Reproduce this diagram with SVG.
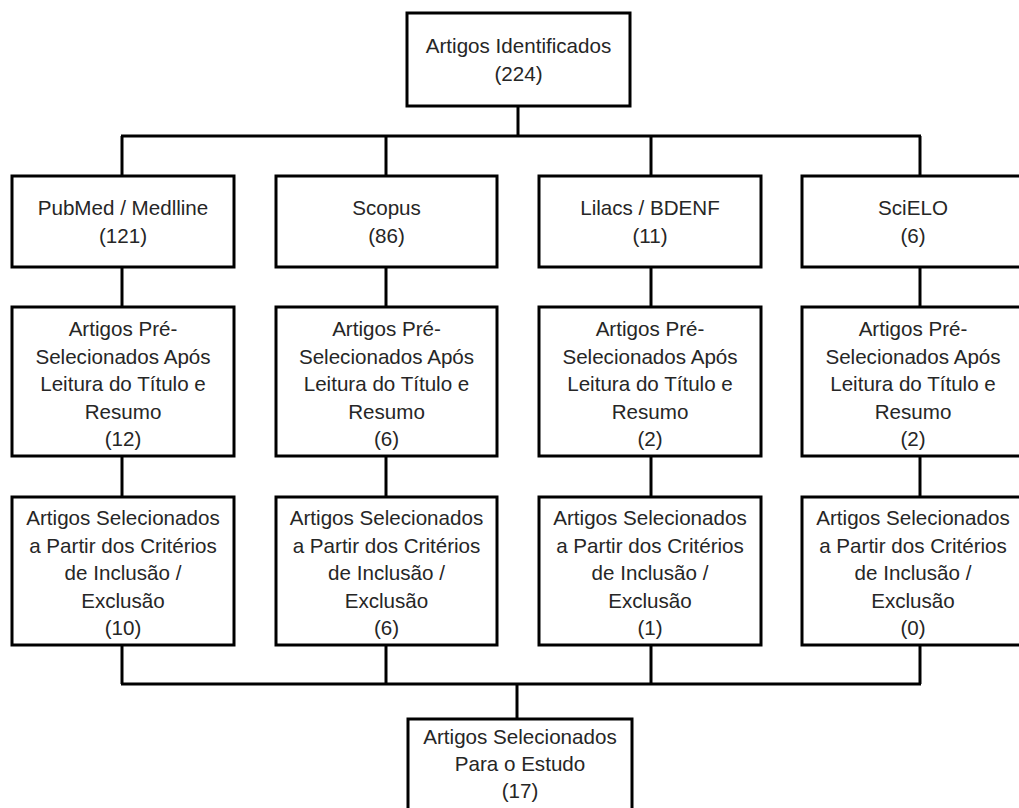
<svg xmlns="http://www.w3.org/2000/svg" width="1019" height="808" viewBox="0 0 1019 808">
<style>
.box{fill:#fff;stroke:#000;stroke-width:3}
.c{fill:none;stroke:#000;stroke-width:3}
text{font-family:"Liberation Sans",Arial,sans-serif;font-size:20.6px;fill:#262626;text-anchor:middle}
</style>
<rect width="1019" height="808" fill="#fff"/>
<g id="connectors">
<line class="c" x1="518" y1="106" x2="518" y2="136"/>
<line class="c" x1="121" y1="136" x2="921" y2="136"/>
<line class="c" x1="122" y1="136" x2="122" y2="176"/>
<line class="c" x1="386" y1="136" x2="386" y2="176"/>
<line class="c" x1="651" y1="136" x2="651" y2="176"/>
<line class="c" x1="920" y1="136" x2="920" y2="176"/>
<line class="c" x1="122" y1="267" x2="122" y2="307"/>
<line class="c" x1="386" y1="267" x2="386" y2="307"/>
<line class="c" x1="651" y1="267" x2="651" y2="307"/>
<line class="c" x1="920" y1="267" x2="920" y2="307"/>
<line class="c" x1="122" y1="456" x2="122" y2="497"/>
<line class="c" x1="386" y1="456" x2="386" y2="497"/>
<line class="c" x1="651" y1="456" x2="651" y2="497"/>
<line class="c" x1="920" y1="456" x2="920" y2="497"/>
<line class="c" x1="122" y1="645" x2="122" y2="684"/>
<line class="c" x1="386" y1="645" x2="386" y2="684"/>
<line class="c" x1="651" y1="645" x2="651" y2="684"/>
<line class="c" x1="920" y1="645" x2="920" y2="684"/>
<line class="c" x1="121" y1="684" x2="921" y2="684"/>
<line class="c" x1="517" y1="684" x2="517" y2="719"/>
</g>
<g id="n-identificados">
<rect class="box" x="407" y="13" width="223" height="93"/>
<text x="518.5" y="53">Artigos Identificados</text>
<text x="518.5" y="81">(224)</text>
</g>
<g id="n-pubmed">
<rect class="box" x="12" y="176" width="222" height="91"/>
<text x="123" y="215">PubMed / Medlline</text>
<text x="123" y="243">(121)</text>
</g>
<g id="n-scopus">
<rect class="box" x="276" y="176" width="221" height="91"/>
<text x="386.5" y="215">Scopus</text>
<text x="386.5" y="243">(86)</text>
</g>
<g id="n-lilacs">
<rect class="box" x="539" y="176" width="222" height="91"/>
<text x="650" y="215">Lilacs / BDENF</text>
<text x="650" y="243">(11)</text>
</g>
<g id="n-scielo">
<rect class="box" x="802" y="176" width="222" height="91"/>
<text x="913" y="215">SciELO</text>
<text x="913" y="243">(6)</text>
</g>
<g id="n-pre-pubmed">
<rect class="box" x="12" y="307" width="222" height="149"/>
<text x="123" y="336">Artigos Pré-</text>
<text x="123" y="363.5">Selecionados Após</text>
<text x="123" y="391">Leitura do Título e</text>
<text x="123" y="418.5">Resumo</text>
<text x="123" y="446">(12)</text>
</g>
<g id="n-pre-scopus">
<rect class="box" x="276" y="307" width="221" height="149"/>
<text x="386.5" y="336">Artigos Pré-</text>
<text x="386.5" y="363.5">Selecionados Após</text>
<text x="386.5" y="391">Leitura do Título e</text>
<text x="386.5" y="418.5">Resumo</text>
<text x="386.5" y="446">(6)</text>
</g>
<g id="n-pre-lilacs">
<rect class="box" x="539" y="307" width="222" height="149"/>
<text x="650" y="336">Artigos Pré-</text>
<text x="650" y="363.5">Selecionados Após</text>
<text x="650" y="391">Leitura do Título e</text>
<text x="650" y="418.5">Resumo</text>
<text x="650" y="446">(2)</text>
</g>
<g id="n-pre-scielo">
<rect class="box" x="802" y="307" width="222" height="149"/>
<text x="913" y="336">Artigos Pré-</text>
<text x="913" y="363.5">Selecionados Após</text>
<text x="913" y="391">Leitura do Título e</text>
<text x="913" y="418.5">Resumo</text>
<text x="913" y="446">(2)</text>
</g>
<g id="n-sel-pubmed">
<rect class="box" x="12" y="497" width="222" height="148"/>
<text x="123" y="525">Artigos Selecionados</text>
<text x="123" y="552.5">a Partir dos Critérios</text>
<text x="123" y="580">de Inclusão /</text>
<text x="123" y="607.5">Exclusão</text>
<text x="123" y="635">(10)</text>
</g>
<g id="n-sel-scopus">
<rect class="box" x="276" y="497" width="221" height="148"/>
<text x="386.5" y="525">Artigos Selecionados</text>
<text x="386.5" y="552.5">a Partir dos Critérios</text>
<text x="386.5" y="580">de Inclusão /</text>
<text x="386.5" y="607.5">Exclusão</text>
<text x="386.5" y="635">(6)</text>
</g>
<g id="n-sel-lilacs">
<rect class="box" x="539" y="497" width="222" height="148"/>
<text x="650" y="525">Artigos Selecionados</text>
<text x="650" y="552.5">a Partir dos Critérios</text>
<text x="650" y="580">de Inclusão /</text>
<text x="650" y="607.5">Exclusão</text>
<text x="650" y="635">(1)</text>
</g>
<g id="n-sel-scielo">
<rect class="box" x="802" y="497" width="222" height="148"/>
<text x="913" y="525">Artigos Selecionados</text>
<text x="913" y="552.5">a Partir dos Critérios</text>
<text x="913" y="580">de Inclusão /</text>
<text x="913" y="607.5">Exclusão</text>
<text x="913" y="635">(0)</text>
</g>
<g id="n-estudo">
<rect class="box" x="408" y="719" width="224" height="100"/>
<text x="520" y="743.5">Artigos Selecionados</text>
<text x="520" y="771">Para o Estudo</text>
<text x="520" y="798">(17)</text>
</g>
</svg>
